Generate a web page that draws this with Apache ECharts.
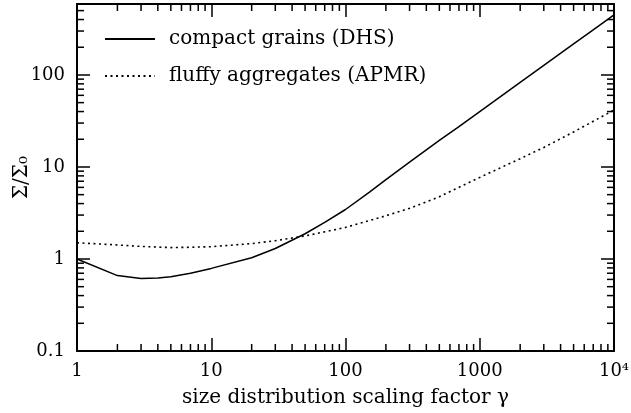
<!DOCTYPE html>
<html>
<head>
    <meta charset="utf-8"/>
    <title>ECharts</title>
    <script src="https://cdn.jsdelivr.net/npm/echarts@6.0.0/dist/echarts.min.js"></script>
</head>
<body style="margin:0">
<div id="chart" style="width: 631px;height:413px;"></div>
<script type="text/javascript">
    // gamma values
    var gamma = [1, 2, 3, 4, 5, 7, 10, 20, 30, 50, 70, 100, 150, 200, 300, 500, 700, 1000, 2000, 3000, 5000, 7000, 10000];
    var compact = [1.0, 0.66, 0.615, 0.62, 0.64, 0.70, 0.79, 1.03, 1.30, 1.88, 2.5, 3.45, 5.3, 7.3, 11.3, 19.4, 27.5, 40, 83, 127, 217, 309, 449];
    var gammaFluffy = [1, 2, 3, 5, 7, 10, 20, 30, 50, 100, 200, 300, 500, 1000, 2000, 3000, 5000, 10000];
    var fluffy = [1.50, 1.42, 1.37, 1.33, 1.34, 1.36, 1.47, 1.58, 1.78, 2.2, 2.95, 3.55, 4.75, 7.7, 12.3, 16.3, 24, 41.6];

    var names = ['compact grains (DHS)', 'fluffy aggregates (APMR)'];
    var xTickLabels = {1: '1', 10: '10', 100: '100', 1000: '1000', 10000: '10⁴'};
    var yTickLabels = {0.1: '0.1', 1: '1', 10: '10', 100: '100'};

    // minor ticks (2..9 per decade)
    var minorX = [];
    [1, 10, 100, 1000].forEach(function (d) {
        for (var k = 2; k <= 9; k++) minorX.push(k * d);
    });
    var minorY = [];
    [0.1, 1, 10, 100].forEach(function (d) {
        for (var k = 2; k <= 9; k++) {
            var v = +(k * d).toFixed(3);
            if (v < 590) minorY.push(v);
        }
    });

    var font = 'DejaVu Serif';
    var frame = {show: true, lineStyle: {color: '#000', width: 2}};
    var majorTick = {show: true, inside: true, length: 13, lineStyle: {color: '#000', width: 1.5}};

    function minorTicks(items, horizontal) {
        return {
            type: 'custom',
            silent: true,
            data: items.map(function (v) { return [v]; }),
            renderItem: function (params, api) {
                var cs = params.coordSys;
                var v = api.value(0);
                var style = {stroke: '#000', lineWidth: 1.5};
                if (horizontal) {
                    var px = api.coord([v, 1])[0];
                    return {type: 'group', children: [
                        {type: 'line', shape: {x1: px, y1: cs.y + cs.height, x2: px, y2: cs.y + cs.height - 7}, style: style},
                        {type: 'line', shape: {x1: px, y1: cs.y, x2: px, y2: cs.y + 7}, style: style}
                    ]};
                }
                var py = api.coord([1, v])[1];
                return {type: 'group', children: [
                    {type: 'line', shape: {x1: cs.x, y1: py, x2: cs.x + 7, y2: py}, style: style},
                    {type: 'line', shape: {x1: cs.x + cs.width, y1: py, x2: cs.x + cs.width - 7, y2: py}, style: style}
                ]};
            }
        };
    }

    var option = {
        animation: false,
        textStyle: {fontFamily: font, color: '#000'},
        grid: {left: 77, right: 17, top: 4, bottom: 62, containLabel: false, outerBoundsMode: 'none'},
        legend: {
            orient: 'vertical',
            left: 104,
            top: 29,
            padding: 0,
            itemWidth: 50,
            itemHeight: 14,
            itemGap: 17,
            data: names,
            itemStyle: {opacity: 0},
            textStyle: {fontFamily: font, fontSize: 20, color: '#000', lineHeight: 20, padding: [0, 0, 0, 9]}
        },
        xAxis: [
            {
                type: 'log', logBase: 10, min: 1, max: 10000,
                name: 'size distribution scaling factor γ',
                nameLocation: 'middle', nameGap: 37,
                nameTextStyle: {fontFamily: font, fontSize: 20, color: '#000'},
                axisLine: frame, axisTick: majorTick, splitLine: {show: false},
                axisLabel: {
                    fontFamily: font, fontSize: 18, color: '#000', margin: 11,
                    formatter: function (v) { return xTickLabels[v] || ''; }
                }
            },
            {
                type: 'log', logBase: 10, min: 1, max: 10000, position: 'top',
                axisLine: frame, axisTick: majorTick, splitLine: {show: false},
                axisLabel: {show: false}
            }
        ],
        yAxis: [
            {
                type: 'log', logBase: 10, min: 0.1, max: 590,
                name: 'Σ/Σ₀',
                nameLocation: 'middle', nameGap: 45, nameRotate: 90, nameMoveOverlap: false,
                nameTextStyle: {fontFamily: font, fontSize: 20, color: '#000'},
                axisLine: frame, axisTick: majorTick, splitLine: {show: false},
                axisLabel: {
                    fontFamily: font, fontSize: 18, color: '#000', margin: 12,
                    formatter: function (v) { return yTickLabels[+v.toPrecision(6)] || ''; }
                }
            },
            {
                type: 'log', logBase: 10, min: 0.1, max: 590, position: 'right',
                axisLine: frame, axisTick: majorTick, splitLine: {show: false},
                axisLabel: {show: false}
            }
        ],
        series: [
            {
                name: names[0],
                type: 'line',
                symbol: 'none',
                data: gamma.map(function (g, i) { return [g, compact[i]]; }),
                lineStyle: {color: '#000', width: 1.5},
                itemStyle: {color: '#000'}
            },
            {
                name: names[1],
                type: 'line',
                symbol: 'none',
                data: gammaFluffy.map(function (g, i) { return [g, fluffy[i]]; }),
                lineStyle: {color: '#000', width: 1.6, type: [2, 3.5]},
                itemStyle: {color: '#000'}
            },
            minorTicks(minorX, true),
            minorTicks(minorY, false)
        ]
    };

    var chart = echarts.init(document.getElementById('chart'));
    chart.setOption(option);
</script>
</body>
</html>
